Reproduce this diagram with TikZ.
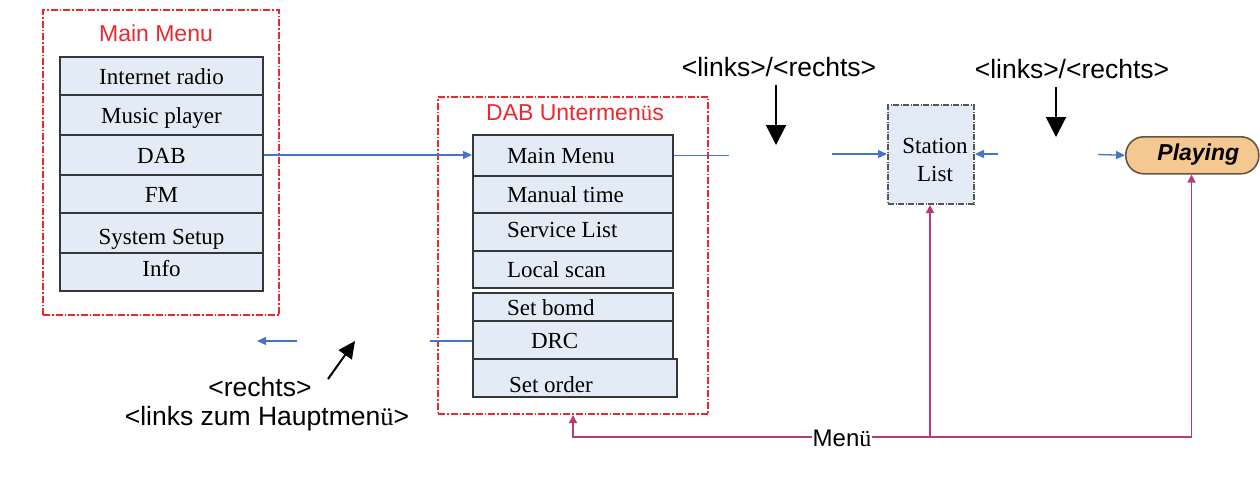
\documentclass[tikz,border=0pt]{standalone}
\usepackage{fontspec}
\setmainfont{Liberation Serif}
\newfontfamily\labfont{Liberation Sans}
\newfontfamily\uefont{Liberation Serif}
\newcommand\myue{{\uefont ü}}
\usetikzlibrary{arrows.meta}
\definecolor{redline}{RGB}{234,40,48}
\definecolor{rowfill}{RGB}{227,235,246}
\definecolor{rowdraw}{RGB}{55,55,55}
\definecolor{bluearr}{RGB}{70,115,195}
\definecolor{magline}{RGB}{180,60,120}
\definecolor{playfill}{RGB}{246,200,145}
\definecolor{playdraw}{RGB}{100,85,70}
\tikzset{
  redbox/.style={draw=redline, line width=2pt, dash pattern=on 7pt off 2pt on 1.5pt off 2pt, anchor=north west, inner sep=0pt},
  rowbase/.style={draw=rowdraw, fill=rowfill, line width=2pt, inner sep=0pt, anchor=north west,
    font=\fontsize{23}{27}\selectfont, text height=16pt, text depth=0pt},
  mrow/.style={rowbase, minimum width=203pt},
  srow/.style={rowbase, minimum width=200pt, text width=132pt, align=flush left},
  stationbox/.style={draw=rowdraw!85, fill=rowfill, line width=2pt, dash pattern=on 6pt off 1.5pt on 1pt off 1.5pt, anchor=north west, inner sep=0pt},
  boxtext/.style={font=\fontsize{23}{28}\selectfont, inner sep=0pt},
  playnode/.style={draw=playdraw, fill=playfill, line width=1.6pt, rounded corners=18pt, anchor=north west, inner sep=0pt,
    font=\labfont\bfseries\itshape\fontsize{23}{27}\selectfont, text height=16pt, text depth=0pt},
  titletext/.style={font=\labfont\fontsize{23}{27}\selectfont, text=redline, inner sep=0pt, anchor=base},
  labeltext/.style={font=\labfont\fontsize{26.5}{31}\selectfont, inner sep=0pt, anchor=base},
  bluearrow/.style={draw=bluearr, line width=1.3pt, -{Triangle[length=9pt,width=8pt]}},
  blueline/.style={draw=bluearr, line width=1.3pt},
  blackarrow/.style={draw=black, line width=2pt, -{Triangle[length=20pt,width=20pt]}},
  blackarrowsmall/.style={draw=black, line width=2pt, -{Triangle[length=17pt,width=16pt]}},
  magarrow/.style={draw=magline, line width=1.6pt, -{Triangle[length=8pt,width=8pt]}}
}
\begin{document}
\begin{tikzpicture}[x=1pt,y=-1pt]
\useasboundingbox (0,0) rectangle (1260,477);
% containers
\node[redbox, minimum width=236pt, minimum height=305pt] (mainbox) at (42,9) {};
\node[redbox, minimum width=270pt, minimum height=317pt] (subbox) at (437,96) {};
\node[titletext] (maintitle) at (156,41) {Main Menu};
\node[titletext] (subtitle) at (575,120) {DAB Untermen\myue s};
% main menu rows
\node[mrow, minimum height=38pt] (ir) at (59,56) {Internet radio};
\node[mrow, minimum height=40pt] (mp) at (59,94) {Music player};
\node[mrow, minimum height=40pt] (dab) at (59,134) {DAB};
\node[mrow, minimum height=38pt] (fm) at (59,174) {FM};
\node[mrow, minimum height=40pt] (ss) at (59,212) {\raisebox{-3pt}{System Setup}};
\node[mrow, minimum height=38pt] (info) at (59,252) {\raisebox{4pt}{Info}};
% DAB submenu rows
\node[srow, minimum height=41pt] (sm) at (472,134) {Main Menu};
\node[srow, minimum height=37pt] (smt) at (472,175) {Manual time};
\node[srow, minimum height=38pt] (ssl) at (472,212) {\raisebox{3pt}{Service List}};
\node[srow, minimum height=37pt] (sls) at (472,250) {Local scan};
\node[srow, minimum height=28pt] (ssb) at (472,292) {Set bomd};
\node[srow, minimum height=38pt] (sdrc) at (472,320) {\hspace*{24pt}DRC};
\node[srow, minimum height=38pt, minimum width=204pt] (sso) at (472,358) {\raisebox{-6pt}{Set order}};
% station list and playing
\node[stationbox, minimum width=86pt, minimum height=99pt] (station) at (887,104) {};
\node[boxtext, align=center] (stationtxt) at (935,160) {Station\\List};
\node[playnode, minimum width=133pt, minimum height=37pt] (playing) at (1125,136) {\raisebox{3pt}{\hspace*{12pt}Playing}};
% labels
\node[labeltext] (lr1) at (779,76) {<links>/<rechts>};
\node[labeltext] (lr2) at (1072,78) {<links>/<rechts>};
\node[labeltext] (rechts) at (260,396) {<rechts>};
\node[labeltext] (hm) at (267,425) {<links zum Hauptmen\myue>};
% blue connectors
\draw[bluearrow] (dab.east) -- (dab.east -| sm.west);
\coordinate (smend) at (729,154.5);
\draw[blueline] (sm.east) -- (sm.east -| smend);
\coordinate (stin) at (832,154);
\draw[bluearrow] (stin) -- (stin -| station.west);
\coordinate (stright) at (998,154);
\draw[bluearrow] (stright) -- (stright -| station.east);
\coordinate (plin) at (1098,154.5);
\draw[bluearrow] (plin) -- (playing.west);
\coordinate (backL) at (297,341);
\coordinate (backR) at (257,341);
\draw[bluearrow] (backL) -- (backR);
\coordinate (drcin) at (430,341);
\draw[blueline] (drcin) -- (drcin -| sdrc.west);
% black arrows
\coordinate (a1s) at (776,85);
\coordinate (a1e) at (776,145);
\draw[blackarrow] (a1s) -- (a1e);
\coordinate (a2s) at (1056,87);
\coordinate (a2e) at (1056,137);
\draw[blackarrow] (a2s) -- (a2e);
\coordinate (a3s) at (328,379);
\coordinate (a3e) at (355,341);
\draw[blackarrowsmall] (a3s) -- (a3e);
% magenta menu connectors
\coordinate (mbase) at (930,437);
\coordinate (mleft) at (573,437);
\coordinate (mright) at (1191.5,437);
\draw[magarrow] (mbase) -- (mbase |- station.south);
\draw[magarrow] (mbase) -- (mright) -- (mright |- playing.south);
\draw[magarrow] (mbase) -- (mleft) -- (mleft |- subbox.south);
\node[font=\labfont\fontsize{24}{28}\selectfont, fill=white, inner xsep=1pt, inner ysep=2pt] (menu) at (842,438) {Men\myue};
\end{tikzpicture}
\end{document}
